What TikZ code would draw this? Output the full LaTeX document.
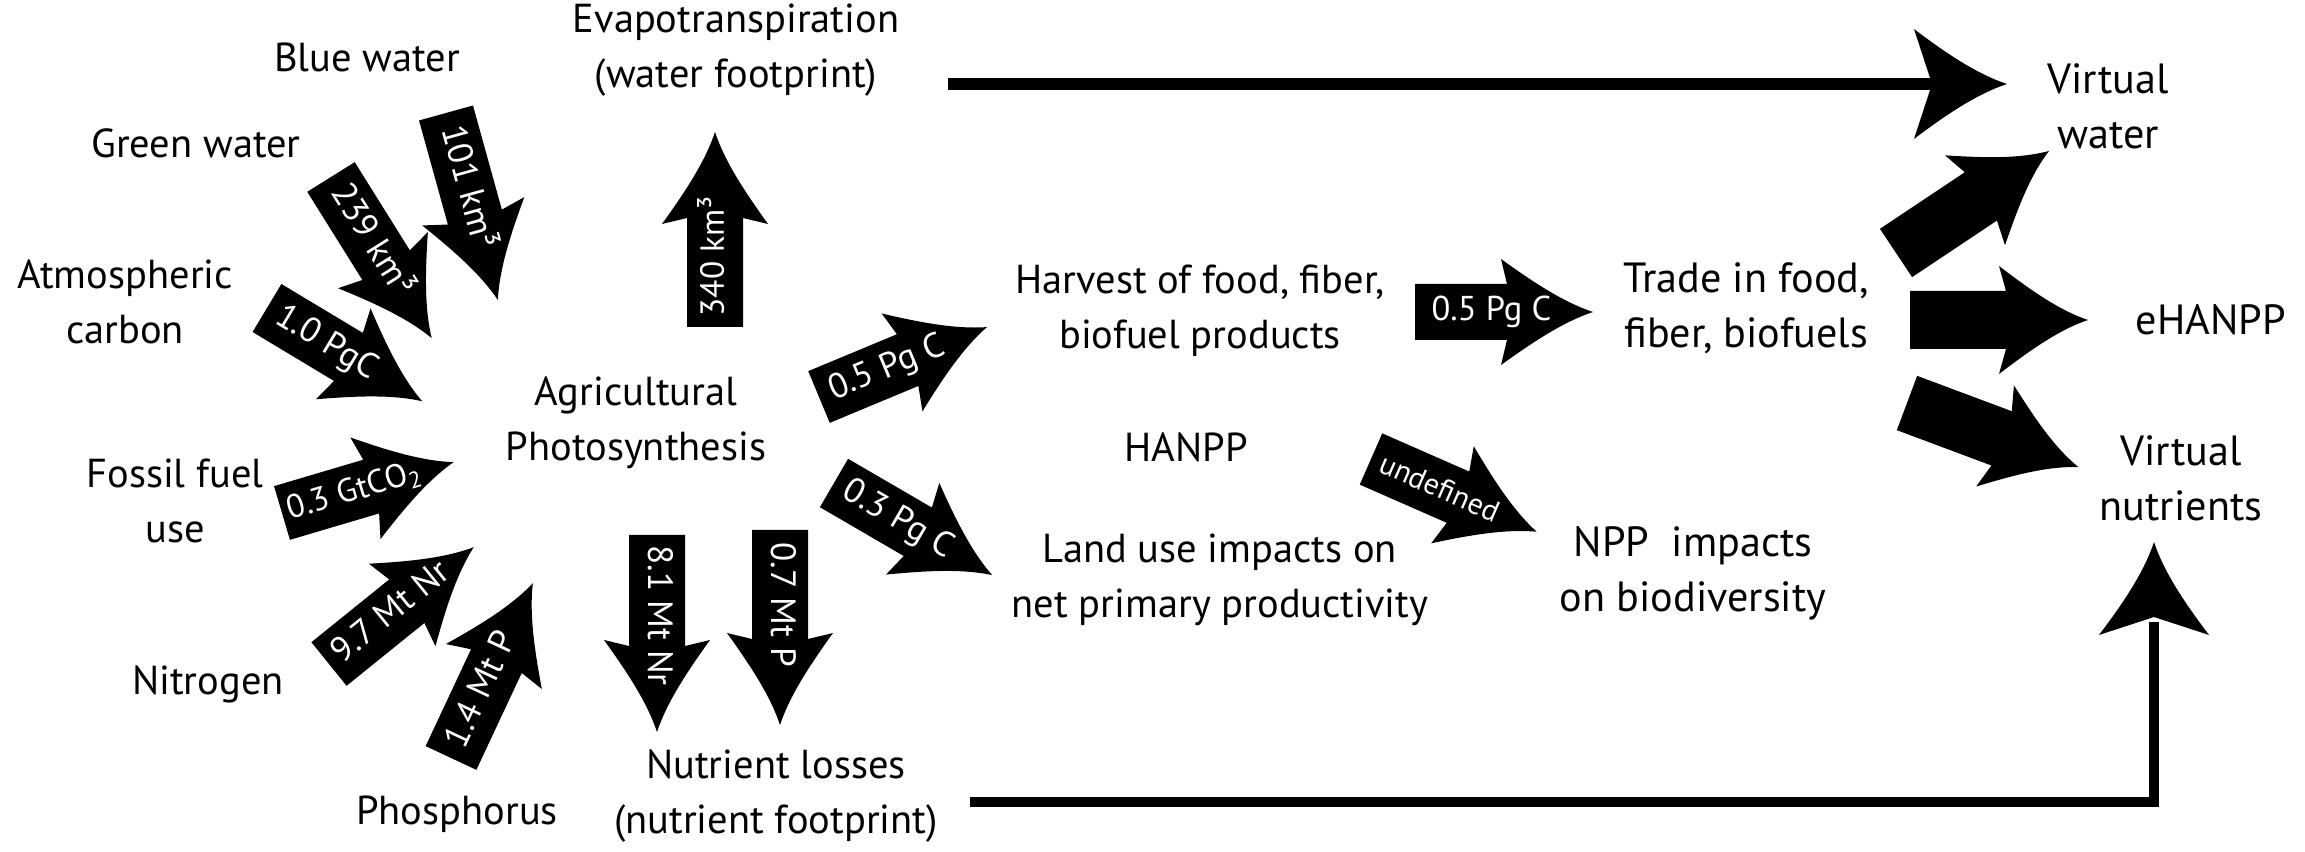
\documentclass[tikz,border=0pt]{standalone}
\usepackage{fontspec}
\setmainfont{PT Sans}
\begin{document}
\begin{tikzpicture}[x=0.01cm,y=-0.01cm,
  lbl/.style={align=center, inner sep=0pt, font=\fontsize{11.5}{15.6}\selectfont,
    execute at begin node=\strut, execute at end node=\strut},
  rlbl/.style={lbl, font=\fontsize{12}{15.6}\selectfont},
  alabel/.style={text=white, inner sep=0pt, transform shape},
  topline/.style={line width=3.4pt},
  botline/.style={line width=2.9pt, line join=miter},
  pics/barrow/.style n args={4}{code={
    \fill[black] (0,-28) -- ({#1-86},-28) -- ({#1-92},-53)
      .. controls ({#1-60},-30) and ({#1-30},-10) .. (#1,0)
      .. controls ({#1-30},10) and ({#1-60},30) .. ({#1-92},53)
      -- ({#1-86},28) -- (0,28) -- cycle;
    \node[alabel, anchor=mid west, font=\fontsize{#3}{#3}\selectfont] (-lab) at (#4,0) {#2};
  }},
  pics/fatarrow/.style={code={
    \fill[black] (0,-29) -- ({#1-82},-29) -- ({#1-89},-54)
      .. controls ({#1-60},-32) and ({#1-30},-10) .. (#1,0)
      .. controls ({#1-30},10) and ({#1-60},32) .. ({#1-89},54)
      -- ({#1-82},29) -- (0,29) -- cycle;
  }},
  pics/lhead/.style={code={
    \fill[black] (0,0) .. controls (-30,-10) and (-60,-30) .. (-93,-55)
      -- (-75,0) -- (-93,55) .. controls (-60,30) and (-30,10) .. (0,0) -- cycle;
  }}
]
\fill[white] (0,0) rectangle (2305,852);
\useasboundingbox (0,0) rectangle (2305,852);

% ---------- text nodes ----------
\node[lbl] (evap) at (736,54) {Evapotranspiration\\(water footprint)};
\node[lbl] (blue) at (367,61) {Blue water};
\node[lbl] (green) at (196,147) {Green water};
\node[lbl] (atm) at (125,310) {Atmospheric\\carbon};
\node[lbl] (fossil) at (175,509) {Fossil fuel\\use};
\node[lbl] (nitro) at (208,684) {Nitrogen};
\node[lbl] (phos) at (457,814) {Phosphorus};
\node[lbl] (nutr) at (776,800) {Nutrient losses\\(nutrient footprint)};
\node[lbl] (agri) at (636,427) {Agricultural\\Photosynthesis};
\node[lbl] (harv) at (1200,315) {Harvest of food, fiber,\\biofuel products};
\node[lbl] (hanpp) at (1186,451) {HANPP};
\node[lbl] (land) at (1220,584) {Land use impacts on\\net primary productivity};
\node[rlbl] (npp) at (1693,577) {NPP\ \ impacts\\on biodiversity};
\node[rlbl] (trade) at (1746,313) {Trade in food,\\fiber, biofuels};
\node[rlbl] (vw) at (2108,114) {Virtual\\water};
\node[rlbl] (ehanpp) at (2211,324) {eHANPP};
\node[rlbl] (vn) at (2181,486) {Virtual\\nutrients};

% ---------- block arrows with values ----------
\pic[rotate=-74.5] (a1) at (446,113) {barrow={194}{101 km³}{10}{14}};
\pic[rotate=-58]   (a2) at (331,177) {barrow={190}{239 km³}{10}{12}};
\pic[rotate=-31]   (a3) at (267,308) {barrow={181}{1.0 PgC}{10}{12}};
\pic[rotate=16.5]  (a4) at (282,513) {barrow={179}{0.3 GtCO\textsubscript{2}}{9.4}{6}};
\pic[rotate=38.9]  (a5) at (329,664) {barrow={186}{9.7 Mt Nr}{10}{10}};
\pic[rotate=64.9]  (a6) at (451,758) {barrow={193}{1.4 Mt P}{10}{12}};
\pic[rotate=-90]   (a7) at (657,535) {barrow={197}{8.1 Mt Nr}{10}{10}};
\pic[rotate=-90]   (a8) at (780,530) {barrow={195}{0.7 Mt P}{10}{12}};
\pic[rotate=90]    (a9) at (715,327) {barrow={195}{340 km³}{9.5}{10}};
\pic[rotate=22.6]  (a10) at (819,397) {barrow={182}{0.5 Pg C}{10}{12}};
\pic[rotate=-30.2] (a11) at (834,483) {barrow={183}{0.3 Pg C}{10}{12}};
\pic[rotate=0]     (a12) at (1415,312) {barrow={178}{0.5 Pg C}{9.8}{16}};
\pic[rotate=-23.7] (a13) at (1371,459) {barrow={181}{undefined}{8.5}{10}};

% ---------- fat arrows to embodied flows ----------
\pic[rotate=33.7]  (f1) at (1896,253) {fatarrow=184};
\pic[rotate=0]     (f2) at (1910,320) {fatarrow=178};
\pic[rotate=-20.5] (f3) at (1907,403) {fatarrow=183};

% ---------- long connectors ----------
\coordinate (wstart) at (948,84);
\coordinate (wnotch) at (1935,84);
\coordinate (wtip) at (2007,84);
\draw[topline] (wstart) -- (wnotch);
\pic at (wtip) {lhead};

\coordinate (nstart) at (970,802);
\coordinate (ncorner) at (2154,802);
\coordinate (nnotch) at (2154,622);
\coordinate (ntip) at (2154,542);
\draw[botline] (nstart) -- (ncorner) -- (nnotch);
\pic[rotate=90] at (ntip) {lhead};
\end{tikzpicture}
\end{document}
